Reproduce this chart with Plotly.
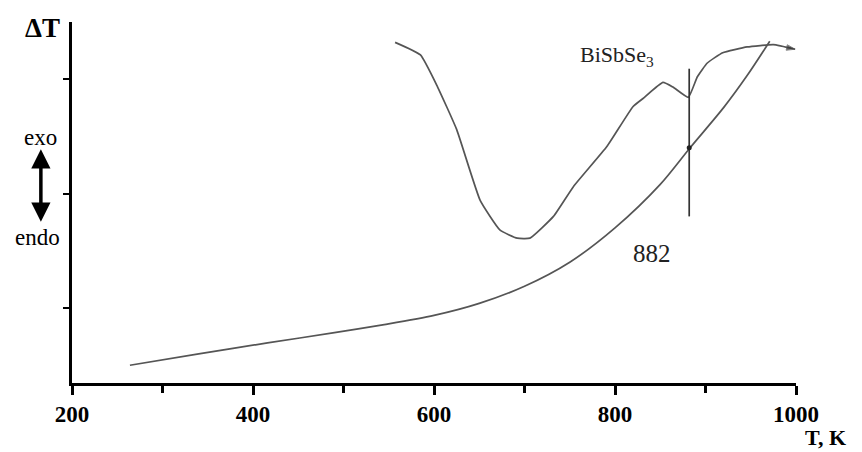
import plotly.graph_objects as go

# Baseline / temperature curve
base_T = [264, 340, 416, 490, 545, 600, 650, 700, 750, 800, 850, 883, 920, 946, 971]
base_v = [0.50, 0.60, 0.695, 0.785, 0.855, 0.935, 1.04, 1.19, 1.40, 1.70, 2.08, 2.40, 2.75, 3.03, 3.33]

# DTA curve of BiSbSe3
dta_T = [557, 585, 604, 625, 651, 673, 692, 706, 732, 754, 791, 820, 831, 853, 864, 881,
         891, 902, 919, 946, 975, 999]
dta_v = [3.32, 3.21, 2.93, 2.56, 1.94, 1.68, 1.61, 1.61, 1.80, 2.06, 2.41, 2.76, 2.83, 2.97,
         2.93, 2.84, 3.02, 3.14, 3.23, 3.28, 3.30, 3.26]

# Effect marker
effect_T = 882
effect_span = [1.80, 3.09]
effect_point = 2.40

x_ticks = [200, 400, 600, 800, 1000]
x_minor = [300, 500, 700, 900]
y_ticks = [1, 2, 3]

serif = "Liberation Serif, DejaVu Serif, serif"
fig = go.Figure()

fig.add_trace(go.Scatter(x=base_T, y=base_v, mode="lines",
                         line=dict(color="#555555", width=1.7, shape="spline", smoothing=0.8),
                         showlegend=False, hoverinfo="skip"))

n = len(dta_T)
fig.add_trace(go.Scatter(x=dta_T, y=dta_v, mode="lines+markers",
                         line=dict(color="#555555", width=1.7, shape="spline", smoothing=0.4),
                         marker=dict(symbol="arrow", angleref="previous",
                                     size=[0] * (n - 1) + [9], color="#333333"),
                         showlegend=False, hoverinfo="skip"))

fig.add_trace(go.Scatter(x=[effect_T, effect_T], y=effect_span, mode="lines",
                         line=dict(color="#333333", width=1.7),
                         showlegend=False, hoverinfo="skip"))
fig.add_trace(go.Scatter(x=[effect_T], y=[effect_point], mode="markers",
                         marker=dict(color="#222222", size=5),
                         showlegend=False, hoverinfo="skip"))

fig.update_xaxes(range=[200, 1000], showline=True, linecolor="black", linewidth=2.5,
                 tickmode="array", tickvals=x_ticks, ticktext=[str(t) for t in x_ticks],
                 ticks="outside", ticklen=9, tickwidth=2.5, tickcolor="black",
                 ticklabelstandoff=0,
                 minor=dict(tickvals=x_minor, ticks="outside", ticklen=7, tickwidth=2.5,
                            tickcolor="black", showgrid=False),
                 tickfont=dict(family=serif, size=23, color="black", weight="bold"),
                 showgrid=False, zeroline=False)
fig.update_yaxes(range=[0.345, 3.498], showline=True, linecolor="black", linewidth=2.5,
                 tickmode="array", tickvals=y_ticks, showticklabels=False,
                 ticks="outside", ticklen=6, tickwidth=2, tickcolor="black",
                 showgrid=False, zeroline=False)

annotations = [
    dict(text="ΔT", x=-0.041, y=0.983, xref="paper", yref="paper", showarrow=False,
         xanchor="center", yanchor="middle",
         font=dict(family=serif, size=27, color="black", weight="bold")),
    dict(text="exo", x=-0.043, y=0.681, xref="paper", yref="paper", showarrow=False,
         xanchor="center", yanchor="middle",
         font=dict(family=serif, size=23, color="black")),
    dict(text="endo", x=-0.048, y=0.402, xref="paper", yref="paper", showarrow=False,
         xanchor="center", yanchor="middle",
         font=dict(family=serif, size=23, color="black")),
    dict(text="", x=-0.043, y=0.447, xref="paper", yref="paper", showarrow=True,
         ax=0, ay=-74, arrowside="end+start", arrowhead=2, arrowsize=1.1, arrowwidth=3.5,
         arrowcolor="black"),
    dict(text="T, K", x=1.041, y=-0.150, xref="paper", yref="paper", showarrow=False,
         xanchor="center", yanchor="middle",
         font=dict(family=serif, size=22, color="black", weight="bold")),
    dict(text="BiSbSe<sub>3</sub>", x=802, y=3.20, xref="x", yref="y", showarrow=False,
         xanchor="center", yanchor="middle",
         font=dict(family=serif, size=22, color="#222222")),
    dict(text="882", x=841, y=1.48, xref="x", yref="y", showarrow=False,
         xanchor="center", yanchor="middle",
         font=dict(family=serif, size=25, color="#222222")),
]

fig.update_layout(width=862, height=452, autosize=False,
                  margin=dict(l=72, r=66, t=22, b=69),
                  plot_bgcolor="white", paper_bgcolor="white",
                  font=dict(family=serif),
                  annotations=annotations)

fig.write_html("out.html")
